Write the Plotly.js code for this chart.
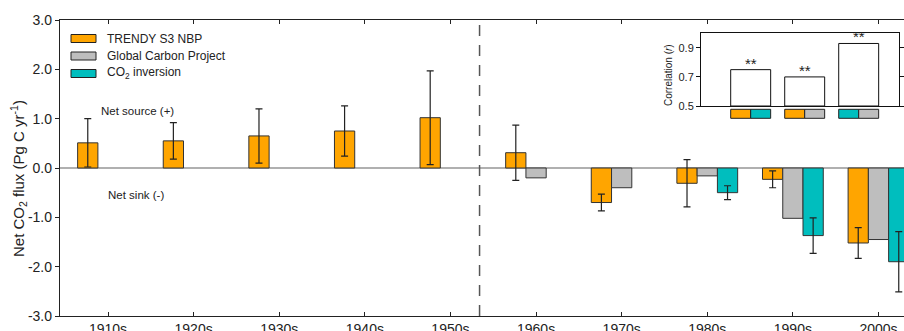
<!DOCTYPE html>
<html>
<head>
<meta charset="utf-8">
<script src="https://cdn.plot.ly/plotly-3.0.1.min.js"></script>
<style>html,body{margin:0;padding:0;background:#fff;}#chart{width:904px;height:331px;}</style>
</head>
<body>
<div id="chart"></div>
<script>
// ---- data ----
var decades = ["1910s","1920s","1930s","1940s","1950s","1960s","1970s","1980s","1990s","2000s"];
var seriesNames = ["TRENDY S3 NBP", "Global Carbon Project", "CO<sub>2</sub> inversion"];
var trendyNBP = [0.51, 0.55, 0.65, 0.75, 1.02, 0.31, -0.70, -0.31, -0.23, -1.52];
var trendyErr = [0.49, 0.37, 0.55, 0.51, 0.95, 0.56, 0.17, 0.48, 0.17, 0.31];
var gcpFlux   = [null, null, null, null, null, -0.20, -0.40, -0.16, -1.02, -1.45];
var co2Inv    = [null, null, null, null, null, null, null, -0.50, -1.37, -1.90];
var co2Err    = [null, null, null, null, null, null, null, 0.14, 0.36, 0.61];
var yTickVals = [-3, -2, -1, 0, 1, 2, 3];
var yTickText = ["-3.0", "-2.0", "-1.0", "0.0", "1.0", "2.0", "3.0"];
// inset: correlations between pairs of series
var corrPairs = [[0, 2], [0, 1], [2, 1]];
var corrValues = [0.75, 0.70, 0.93];
var corrSig = ["**", "**", "**"];
var corrTickVals = [0.5, 0.7, 0.9];

// ---- styling ----
var colors = ["#FFA500", "#BEBEBE", "#00BEBE"];
var FONT = "Liberation Sans, Arial, sans-serif";
var W = 904, H = 331, ML = 60, MT = 20, MB = 15, MR = 0;
var PW = W - ML - MR, PH = H - MT - MB;
function px(x) { return (x - ML) / PW; }
function py(y) { return (H - MB - y) / PH; }

var errStyle = function (arr) {
  return {type: "data", array: arr, visible: true, color: "#222", thickness: 1.2, width: 3.5};
};
var barLine = {color: "#333", width: 1};

var traces = [
  {type: "bar", x: decades, y: trendyNBP, name: seriesNames[0],
   marker: {color: colors[0], line: barLine}, error_y: errStyle(trendyErr)},
  {type: "bar", x: decades, y: gcpFlux, name: seriesNames[1],
   marker: {color: colors[1], line: barLine}},
  {type: "bar", x: decades, y: co2Inv, name: seriesNames[2],
   marker: {color: colors[2], line: barLine}, error_y: errStyle(co2Err)},
  {type: "bar", x: [0, 1, 2], y: corrValues.map(function (v) { return v - 0.5; }), base: 0.5,
   xaxis: "x2", yaxis: "y2", width: 0.74, showlegend: false,
   marker: {color: "#fff", line: {color: "#111", width: 1}}, hoverinfo: "skip"}
];

var shapes = [
  {type: "line", xref: "x", yref: "paper", x0: 4.34, x1: 4.34, y0: 0, y1: 1,
   line: {color: "#555", width: 1.5, dash: "11px,9px"}}
];
var annotations = [];

// custom legend
var rowY = [38.5, 56, 73.5];
for (var i = 0; i < 3; i++) {
  shapes.push({type: "rect", xref: "paper", yref: "paper",
    x0: px(71), x1: px(96), y0: py(rowY[i] + 4), y1: py(rowY[i] - 4),
    fillcolor: colors[i], line: {color: "#222", width: 1}});
  annotations.push({xref: "paper", yref: "paper", x: px(105), y: py(rowY[i]),
    xanchor: "left", yanchor: "middle", showarrow: false, text: seriesNames[i],
    font: {family: FONT, size: 12, color: "#222"}});
}

// inset colour swatches and significance marks
for (var k = 0; k < corrPairs.length; k++) {
  for (var h = 0; h < 2; h++) {
    shapes.push({type: "rect", xref: "x2", yref: "paper",
      x0: k - 0.37 + h * 0.37, x1: k + h * 0.37,
      y0: py(118.3), y1: py(109.3),
      fillcolor: colors[corrPairs[k][h]], line: {color: "#222", width: 1}});
  }
  annotations.push({xref: "x2", yref: "y2", x: k, y: corrValues[k], yanchor: "bottom",
    yshift: -4, showarrow: false, text: corrSig[k],
    font: {family: FONT, size: 15, color: "#222"}});
}

annotations.push(
  {xref: "x", yref: "y", x: 0.34, y: 1.155, showarrow: false, text: "Net source (+)",
   font: {family: FONT, size: 11.5, color: "#222"}},
  {xref: "x", yref: "y", x: 0.33, y: -0.55, showarrow: false, text: "Net sink (-)",
   font: {family: FONT, size: 11.5, color: "#222"}},
  {xref: "paper", yref: "paper", x: px(18.5), y: py(178.5), showarrow: false, textangle: -90,
   xanchor: "center", yanchor: "middle",
   text: "Net CO<sub>2</sub> flux (Pg C yr<sup>-1</sup>)",
   font: {family: FONT, size: 15, color: "#222"}},
  {xref: "paper", yref: "paper", x: px(668), y: py(75), showarrow: false, textangle: -90,
   xanchor: "center", yanchor: "middle",
   text: "Correlation (<i>r</i>)",
   font: {family: FONT, size: 10, color: "#222"}}
);

var layout = {
  width: W, height: H,
  margin: {l: ML, r: MR, t: MT, b: MB, pad: 0},
  paper_bgcolor: "#fff", plot_bgcolor: "#fff",
  showlegend: false,
  barmode: "group", bargap: 0.29, bargroupgap: 0,
  font: {family: FONT, color: "#222"},
  xaxis: {type: "category", categoryorder: "array", categoryarray: decades,
    range: [-0.561, 9.298], automargin: false,
    showline: true, linecolor: "#222", linewidth: 1.2, mirror: "ticks",
    ticks: "inside", ticklen: 4, tickcolor: "#222", tickwidth: 1,
    tickfont: {family: FONT, size: 14, color: "#222"}, showgrid: false, zeroline: false},
  yaxis: {range: [-3, 3], tickvals: yTickVals, ticktext: yTickText, automargin: false,
    showline: true, linecolor: "#222", linewidth: 1.2,
    ticks: "outside", ticklen: 4, tickcolor: "#222",
    tickfont: {family: FONT, size: 14, color: "#222"}, showgrid: false,
    zeroline: true, zerolinecolor: "#b0b0b0", zerolinewidth: 1.5},
  xaxis2: {domain: [px(701), px(899.3)], anchor: "y2", range: [-0.92, 2.752],
    showticklabels: false, ticks: "", showgrid: false, zeroline: false,
    showline: true, linecolor: "#111", linewidth: 1, mirror: true, automargin: false},
  yaxis2: {domain: [py(106), py(33.3)], anchor: "x2", range: [0.5, 1.0],
    tickvals: corrTickVals, tickformat: ".1f", ticks: "outside", ticklen: 4,
    tickcolor: "#111", showgrid: false, zeroline: false,
    showline: true, linecolor: "#111", linewidth: 1, mirror: "ticks", automargin: false,
    tickfont: {family: FONT, size: 11, color: "#222"}},
  shapes: shapes,
  annotations: annotations
};

Plotly.newPlot("chart", traces, layout, {staticPlot: true, displayModeBar: false});
</script>
</body>
</html>
